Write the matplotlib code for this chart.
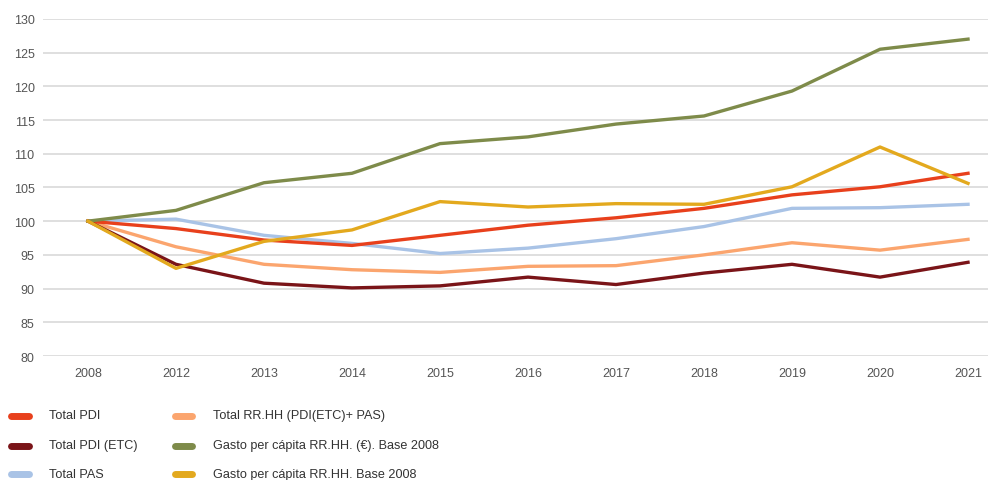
import matplotlib
matplotlib.use("Agg")
import matplotlib.pyplot as plt
from matplotlib.lines import Line2D

plt.rcParams['font.family'] = ['Liberation Sans', 'DejaVu Sans']

years = ["2008", "2012", "2013", "2014", "2015", "2016", "2017", "2018", "2019", "2020", "2021"]

total_pdi = [100, 98.9, 97.2, 96.4, 97.9, 99.4, 100.5, 101.9, 103.9, 105.1, 107.1]
total_pdi_etc = [100, 93.6, 90.8, 90.1, 90.4, 91.7, 90.6, 92.3, 93.6, 91.7, 93.9]
total_pas = [100, 100.3, 97.9, 96.7, 95.2, 96.0, 97.4, 99.2, 101.9, 102.0, 102.5]
total_rrhh = [100, 96.2, 93.6, 92.8, 92.4, 93.3, 93.4, 95.0, 96.8, 95.7, 97.3]
gasto_eur = [100, 101.6, 105.7, 107.1, 111.5, 112.5, 114.4, 115.6, 119.3, 125.5, 127.0]
gasto_base = [100, 93.0, 97.0, 98.7, 102.9, 102.1, 102.6, 102.5, 105.1, 111.0, 105.6]

series = [
    ("Total PDI", total_pdi, "#E8401C"),
    ("Total PDI (ETC)", total_pdi_etc, "#7A1418"),
    ("Total PAS", total_pas, "#A9C3E6"),
    ("Total RR.HH (PDI(ETC)+ PAS)", total_rrhh, "#FBA56E"),
    ("Gasto per cápita RR.HH. (€). Base 2008", gasto_eur, "#7E8B4A"),
    ("Gasto per cápita RR.HH. Base 2008", gasto_base, "#E3A91E"),
]
draw_order = [3, 2, 0, 1, 4, 5]

W, H = 1004, 481
fig = plt.figure(figsize=(W / 100, H / 100), dpi=100)
ax = fig.add_axes([43 / W, (H - 357) / H, (988 - 43) / W, (357 - 19.9) / H])

x = list(range(len(years)))
for i in draw_order:
    label, vals, col = series[i]
    ax.plot(x, vals, color=col, lw=2.4, solid_joinstyle='round', clip_on=False, zorder=3)

ax.set_ylim(80, 130)
ax.set_xlim(-0.511, 10.227)
ax.set_yticks(range(80, 131, 5))
ax.set_xticks(x)
ax.set_xticklabels(years)
ax.grid(axis='y', color='#dcdcdc', lw=1.3)
ax.set_axisbelow(True)
for s in ax.spines.values():
    s.set_visible(False)
ax.tick_params(axis='both', length=0, labelsize=9, labelcolor='#555555')
ax.tick_params(axis='y', pad=6)
ax.tick_params(axis='x', pad=8)

# legend
rows = [416.5, 446.5, 475]
cols = [(11, 29, 49), (175, 192, 213)]
for k, (label, vals, col) in enumerate(series):
    c = cols[k // 3]
    yy = (H - rows[k % 3]) / H
    fig.add_artist(Line2D([c[0] / W, c[1] / W], [yy, yy], color=col, lw=5,
                          solid_capstyle='round', transform=fig.transFigure))
    fig.text(c[2] / W, yy, label, fontsize=9.1, color='#333333', va='center', ha='left')

fig.savefig("out.png", dpi=100)
